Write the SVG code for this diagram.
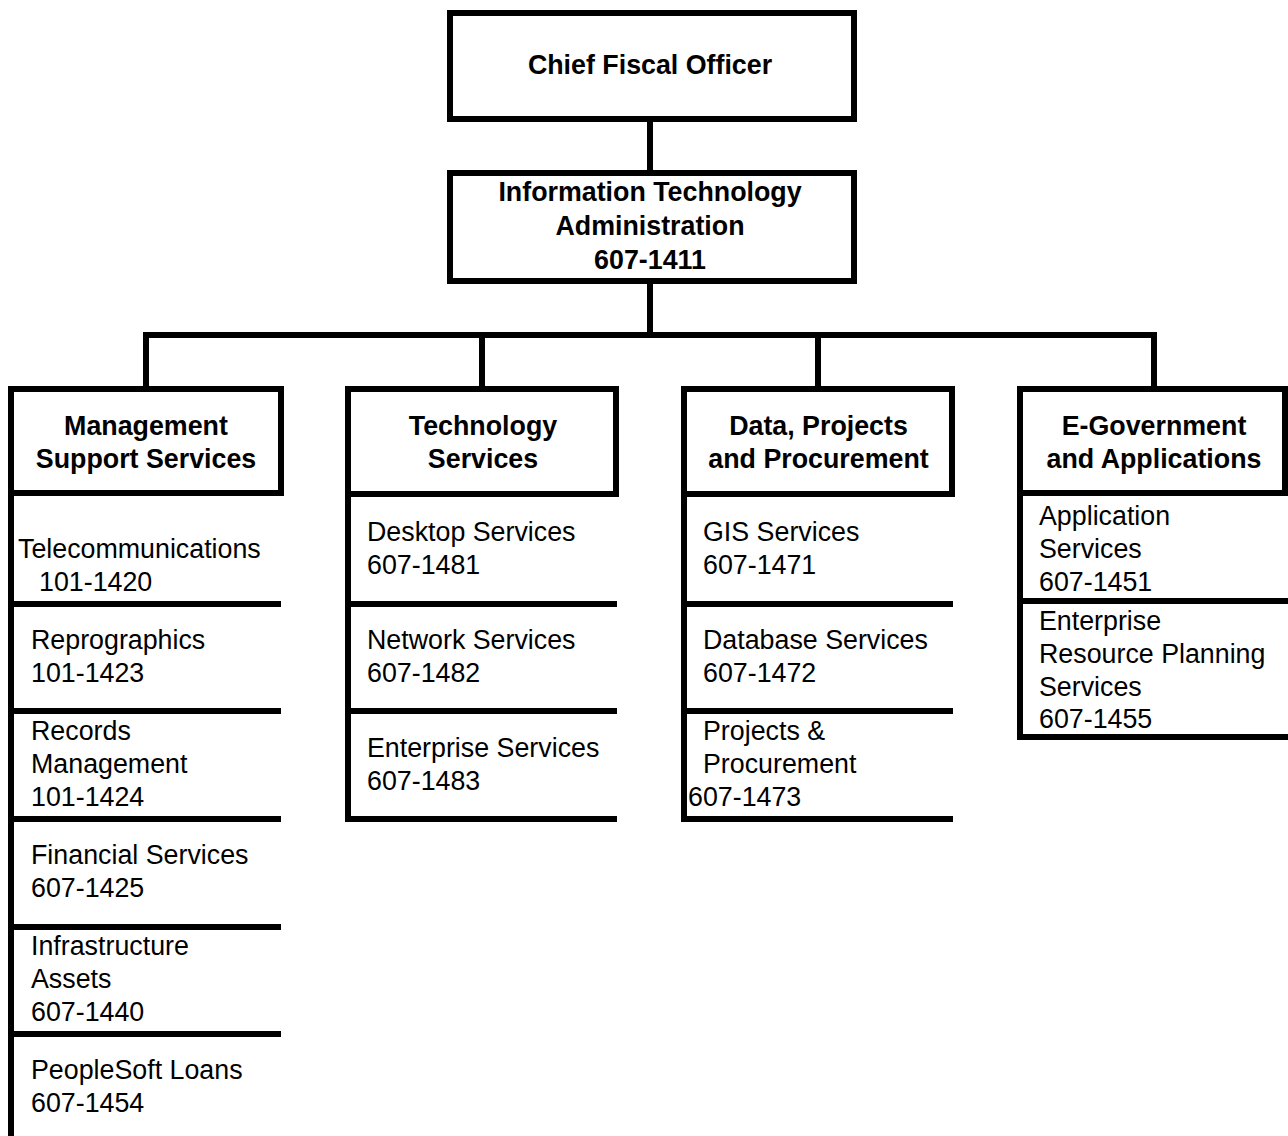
<svg xmlns="http://www.w3.org/2000/svg" width="1288" height="1136" viewBox="0 0 1288 1136">
<style>
  text { font-family: "Liberation Sans", Arial, sans-serif; font-size: 26.8px; fill: #000; }
  .b { font-weight: bold; text-anchor: middle; }
  .box { fill: #fff; stroke: #000; stroke-width: 6; }
  .ln { stroke: #000; stroke-width: 6; fill: none; }
</style>
<rect width="1288" height="1136" fill="#fff"/>
<g id="connectors">
  <line class="ln" x1="650" y1="119" x2="650" y2="173"/>
  <line class="ln" x1="650" y1="281" x2="650" y2="335"/>
  <line class="ln" x1="143" y1="335" x2="1157" y2="335"/>
  <line class="ln" x1="146" y1="335" x2="146" y2="389"/>
  <line class="ln" x1="482" y1="335" x2="482" y2="389"/>
  <line class="ln" x1="818" y1="335" x2="818" y2="389"/>
  <line class="ln" x1="1154" y1="335" x2="1154" y2="389"/>
</g>
<g id="cfo">
  <rect class="box" x="450" y="13" width="404" height="106"/>
  <text class="b" x="650" y="74">Chief Fiscal Officer</text>
</g>
<g id="ita">
  <rect class="box" x="450" y="173" width="404" height="108"/>
  <text class="b" x="650" y="201">Information Technology</text>
  <text class="b" x="650" y="235">Administration</text>
  <text class="b" x="650" y="269">607-1411</text>
</g>
<!-- Column 1 -->
<g id="mss">
  <line class="ln" x1="11" y1="386" x2="11" y2="1136"/>
  <rect class="box" x="11" y="389" width="270" height="104"/>
  <text class="b" x="146" y="435">Management</text>
  <text class="b" x="146" y="468">Support Services</text>
</g>
<g id="telecom">
  <text x="18" y="558">Telecommunications</text>
  <text x="39" y="591">101-1420</text>
  <line class="ln" x1="11" y1="604" x2="281" y2="604"/>
</g>
<g id="repro">
  <text x="31" y="649">Reprographics</text>
  <text x="31" y="682">101-1423</text>
  <line class="ln" x1="11" y1="711" x2="281" y2="711"/>
</g>
<g id="records">
  <text x="31" y="740">Records</text>
  <text x="31" y="773">Management</text>
  <text x="31" y="806">101-1424</text>
  <line class="ln" x1="11" y1="819" x2="281" y2="819"/>
</g>
<g id="financial">
  <text x="31" y="864">Financial Services</text>
  <text x="31" y="897">607-1425</text>
  <line class="ln" x1="11" y1="927" x2="281" y2="927"/>
</g>
<g id="infra">
  <text x="31" y="955">Infrastructure</text>
  <text x="31" y="988">Assets</text>
  <text x="31" y="1021">607-1440</text>
  <line class="ln" x1="11" y1="1034" x2="281" y2="1034"/>
</g>
<g id="peoplesoft">
  <text x="31" y="1079">PeopleSoft Loans</text>
  <text x="31" y="1112">607-1454</text>
</g>
<!-- Column 2 -->
<g id="tech">
  <line class="ln" x1="348" y1="386" x2="348" y2="822"/>
  <rect class="box" x="348" y="389" width="268" height="105"/>
  <text class="b" x="483" y="435">Technology</text>
  <text class="b" x="483" y="468">Services</text>
</g>
<g id="desktop">
  <text x="367" y="541">Desktop Services</text>
  <text x="367" y="574">607-1481</text>
  <line class="ln" x1="348" y1="604" x2="617" y2="604"/>
</g>
<g id="network">
  <text x="367" y="649">Network Services</text>
  <text x="367" y="682">607-1482</text>
  <line class="ln" x1="348" y1="711" x2="617" y2="711"/>
</g>
<g id="enterprise">
  <text x="367" y="757">Enterprise Services</text>
  <text x="367" y="790">607-1483</text>
  <line class="ln" x1="345" y1="819" x2="617" y2="819"/>
</g>
<!-- Column 3 -->
<g id="dpp">
  <line class="ln" x1="684" y1="386" x2="684" y2="822"/>
  <rect class="box" x="684" y="389" width="268" height="105"/>
  <text class="b" x="818.5" y="435">Data, Projects</text>
  <text class="b" x="818.5" y="468">and Procurement</text>
</g>
<g id="gis">
  <text x="703" y="541">GIS Services</text>
  <text x="703" y="574">607-1471</text>
  <line class="ln" x1="684" y1="604" x2="953" y2="604"/>
</g>
<g id="database">
  <text x="703" y="649">Database Services</text>
  <text x="703" y="682">607-1472</text>
  <line class="ln" x1="684" y1="711" x2="953" y2="711"/>
</g>
<g id="projects">
  <text x="703" y="740">Projects &amp;</text>
  <text x="703" y="773">Procurement</text>
  <text x="688" y="806">607-1473</text>
  <line class="ln" x1="681" y1="819" x2="953" y2="819"/>
</g>
<!-- Column 4 -->
<g id="egov">
  <line class="ln" x1="1020" y1="386" x2="1020" y2="740"/>
  <rect class="box" x="1020" y="389" width="265" height="104"/>
  <text class="b" x="1154" y="435">E-Government</text>
  <text class="b" x="1154" y="468">and Applications</text>
</g>
<g id="appsvc">
  <text x="1039" y="525">Application</text>
  <text x="1039" y="558">Services</text>
  <text x="1039" y="591">607-1451</text>
  <line class="ln" x1="1020" y1="601" x2="1288" y2="601"/>
</g>
<g id="erp">
  <text x="1039" y="630">Enterprise</text>
  <text x="1039" y="663">Resource Planning</text>
  <text x="1039" y="696">Services</text>
  <text x="1039" y="728">607-1455</text>
  <line class="ln" x1="1017" y1="737" x2="1288" y2="737"/>
</g>
</svg>
